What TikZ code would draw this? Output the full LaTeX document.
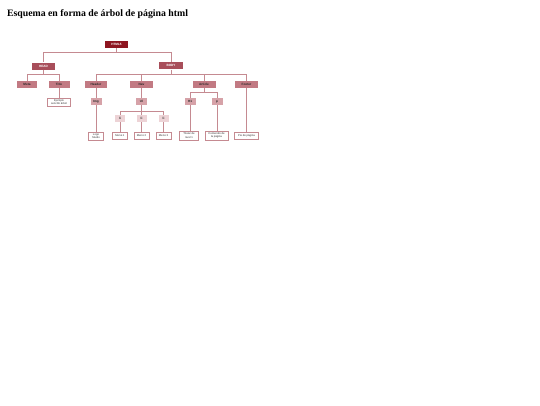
\documentclass[tikz,border=0pt]{standalone}
\usepackage{fontspec}
\setmainfont{Liberation Serif}
\newfontfamily\boxfont{Liberation Sans}
\definecolor{c0}{HTML}{8E1520}
\definecolor{c1}{HTML}{A84E5A}
\definecolor{c2}{HTML}{C27A83}
\definecolor{c3}{HTML}{D6A2A8}
\definecolor{c4}{HTML}{EDD3D6}
\definecolor{cl}{HTML}{C58A91}
\begin{document}
\begin{tikzpicture}[x=1pt,y=-1pt,
  box/.style={draw=none,inner sep=0pt,minimum height=7pt,align=center,
    font=\boxfont\fontsize{3.1}{3.4}\selectfont\bfseries},
  lvlzero/.style={box,fill=c0,text=white,minimum width=23pt},
  lvlone/.style={box,fill=c1,text=white,minimum width=23pt},
  lvltwo/.style={box,fill=c2,text=black!85,minimum width=22pt},
  lvlthree/.style={box,fill=c3,text=black!85,minimum width=11pt},
  lvlfour/.style={box,fill=c4,text=black!85,minimum width=10pt},
  leaf/.style={box,draw=cl,line width=0.4pt,fill=white,text=black!80,
    font=\boxfont\fontsize{2.7}{3.1}\selectfont,minimum height=7pt},
  conn/.style={draw=cl,line width=0.6pt}]
\useasboundingbox (0,0) rectangle (540,405);
\node[anchor=west,font=\fontsize{9.8}{12}\selectfont\bfseries] (title) at (3.5,14.5) {Esquema en forma de árbol de página html};
% level 0/1
\node[lvlzero] (html) at (116.5,44.7) {HTML5};
\node[lvlone] (head) at (43.5,66) {HEAD};
\node[lvlone,minimum width=24pt] (body) at (171,65.8) {BODY};
% level 2
\node[lvltwo,minimum width=20pt] (meta) at (27,84.5) {Meta};
\node[lvltwo,minimum width=21pt] (titl) at (59,84.5) {Title};
\node[lvltwo] (header) at (96,84.5) {Header};
\node[lvltwo,minimum width=23pt] (nav) at (141.5,84.5) {Nav};
\node[lvltwo,minimum width=23pt] (article) at (204,84.5) {Article};
\node[lvltwo,minimum width=23pt] (footer) at (246.5,84.5) {Footer};
% level 3
\node[leaf,minimum width=23pt,minimum height=8pt] (ejemplo) at (59,101.7) {Ejemplo\\sencillo árbol};
\node[lvlthree] (img) at (96,101.5) {Img};
\node[lvlthree] (ul) at (141.5,101.5) {Ul};
\node[lvlthree] (h1) at (190,101.5) {H1};
\node[lvlthree] (p) at (217,101.5) {p};
% level 4
\node[lvlfour] (li1) at (120,118.5) {li};
\node[lvlfour] (li2) at (141.5,118.5) {li};
\node[lvlfour] (li3) at (163.5,118.5) {li};
% leaves
\node[leaf,minimum width=15pt,minimum height=8pt] (logo) at (96,136) {Logo\\Studio};
\node[leaf,minimum width=15pt] (m1) at (120,135.5) {Menú 1};
\node[leaf,minimum width=15pt] (m2) at (141.5,135.5) {Menú 2};
\node[leaf,minimum width=15pt] (m3) at (163.5,135.5) {Menú 3};
\node[leaf,minimum width=19pt,minimum height=9pt] (tit1) at (189,135.5) {Titular de\\nivel 1};
\node[leaf,minimum width=23pt,minimum height=9pt] (cont) at (216.5,135.5) {Contenido de\\la página};
\node[leaf,minimum width=24pt] (pie) at (246.5,135.5) {Pie de página};
% bus coordinates
\coordinate (b0) at (116.5,52);
\coordinate (bh) at (43.5,74.5);
\coordinate (bb) at (171,74);
\coordinate (bu) at (141.5,111);
\coordinate (ba) at (204,92);
% connectors
\draw[conn] (html.south) -- (b0);
\draw[conn] (b0) -| (head.north);
\draw[conn] (b0) -| (body.north);
\draw[conn] (head.south) -- (bh);
\draw[conn] (bh) -| (meta.north);
\draw[conn] (bh) -| (titl.north);
\draw[conn] (body.south) -- (bb);
\draw[conn] (bb) -| (header.north);
\draw[conn] (bb) -| (nav.north);
\draw[conn] (bb) -| (article.north);
\draw[conn] (bb) -| (footer.north);
\draw[conn] (titl.south) -- (ejemplo.north);
\draw[conn] (header.south) -- (img.north);
\draw[conn] (img.south) -- (logo.north);
\draw[conn] (nav.south) -- (ul.north);
\draw[conn] (ul.south) -- (bu);
\draw[conn] (bu) -| (li1.north);
\draw[conn] (bu) -| (li2.north);
\draw[conn] (bu) -| (li3.north);
\draw[conn] (li1.south) -- (m1.north);
\draw[conn] (li2.south) -- (m2.north);
\draw[conn] (li3.south) -- (m3.north);
\draw[conn] (article.south) -- (ba);
\draw[conn] (ba) -| (h1.north);
\draw[conn] (ba) -| (p.north);
\draw[conn] (h1.south) -- (h1.south |- tit1.north);
\draw[conn] (p.south) -- (p.south |- cont.north);
\draw[conn] (footer.south) -- (pie.north);
\end{tikzpicture}
\end{document}
